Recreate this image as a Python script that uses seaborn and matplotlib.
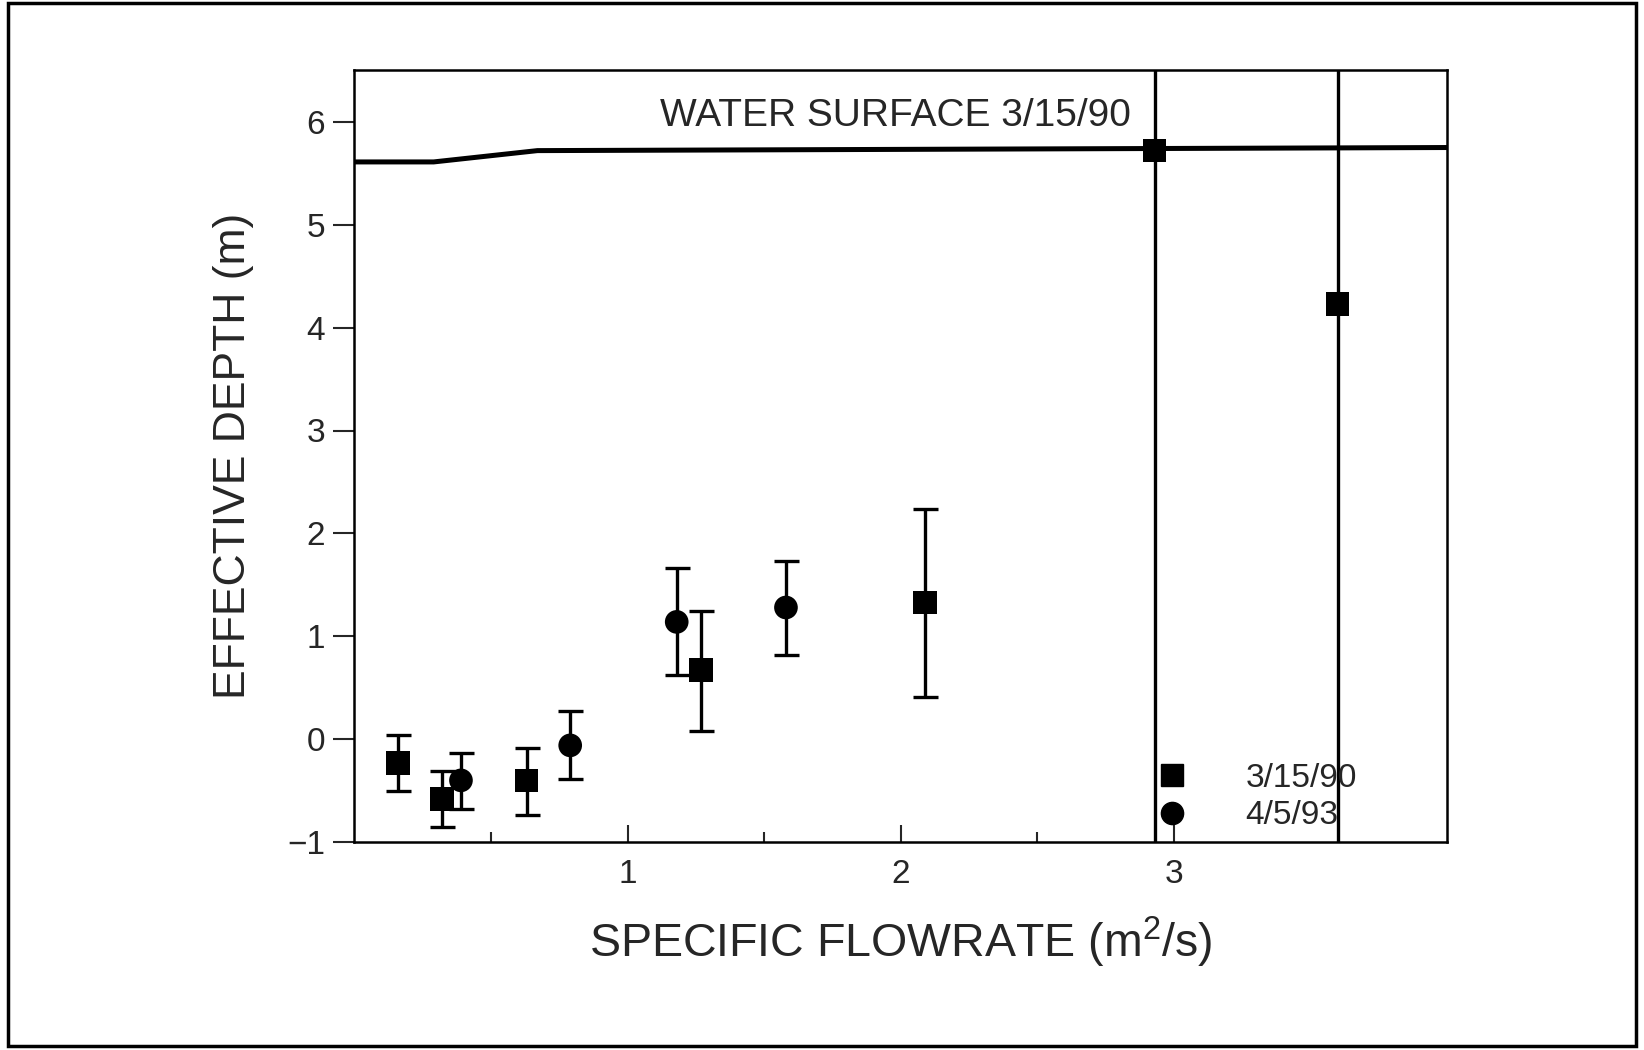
import matplotlib
matplotlib.use("Agg")
import matplotlib.pyplot as plt
import matplotlib.patches as mpatches
from matplotlib.lines import Line2D
import pandas as pd
import seaborn as sns

####################################
# data
####################################
sq_x = [0.16, 0.32, 0.63, 1.27, 2.09, 2.93, 3.60]
sq_y = [-0.23, -0.58, -0.40, 0.67, 1.33, 5.72, 4.23]
sq_lo = [-0.50, -0.85, -0.74, 0.08, 0.41, None, None]
sq_hi = [0.04, -0.31, -0.09, 1.25, 2.24, None, None]

ci_x = [0.39, 0.79, 1.18, 1.58]
ci_y = [-0.40, -0.06, 1.14, 1.28]
ci_lo = [-0.68, -0.39, 0.62, 0.82]
ci_hi = [-0.13, 0.27, 1.66, 1.73]

# points whose error bars run off the chart
open_x = [2.93, 3.60]

ws_x = [0.0, 0.29, 0.67, 4.0]
ws_y = [5.61, 5.61, 5.72, 5.75]

series_labels = ["3/15/90", "4/5/93"]
x_ticks = [1, 2, 3]
x_minor = [0.5, 1.5, 2.5]
y_ticks = [-1, 0, 1, 2, 3, 4, 5, 6]
y_ticklabels = ["\u22121", "0", "1", "2", "3", "4", "5", "6"]

####################################
# prep
####################################
df = pd.DataFrame({
    "x": sq_x + ci_x,
    "y": sq_y + ci_y,
    "lo": sq_lo + ci_lo,
    "hi": sq_hi + ci_hi,
    "series": [series_labels[0]] * len(sq_x) + [series_labels[1]] * len(ci_x),
})
df_err = df.dropna(subset=["lo", "hi"])
df_ws = pd.DataFrame({"x": ws_x, "y": ws_y})

####################################
# visualize
####################################
sns.set_style("ticks")
plt.rcParams["font.family"] = ["Liberation Sans", "DejaVu Sans"]

fig = plt.figure(figsize=(16.44, 10.5), dpi=100)
ax = fig.add_axes([0.2156, 0.198, 0.6645, 0.735])

for xv in open_x:
    ax.axvline(xv, color="black", lw=2.4, zorder=2)

ax.errorbar(
    df_err["x"], df_err["y"],
    yerr=[df_err["y"] - df_err["lo"], df_err["hi"] - df_err["y"]],
    fmt="none", ecolor="black", elinewidth=2.4, capsize=9, capthick=2.4, zorder=3,
)

sns.lineplot(data=df_ws, x="x", y="y", color="black", lw=3.6, ax=ax, zorder=3)

sns.scatterplot(
    data=df, x="x", y="y", style="series",
    markers={series_labels[0]: "s", series_labels[1]: "o"},
    color="black", s=290, edgecolor="black", linewidth=0, legend=False, ax=ax, zorder=4,
)

ax.text(1.98, 6.06, "WATER SURFACE 3/15/90", ha="center", va="center", fontsize=28)

ax.set_xlim(0, 4.0)
ax.set_ylim(-1, 6.5)
ax.set_xticks(x_ticks)
ax.set_xticks(x_minor, minor=True)
ax.set_yticks(y_ticks)
ax.set_yticklabels(y_ticklabels)
ax.tick_params(axis="x", direction="in", length=12, width=1.5, labelsize=24, pad=12)
ax.tick_params(axis="x", which="minor", direction="in", length=7, width=1.5)
ax.tick_params(axis="y", direction="out", length=15, width=1.5, labelsize=24, pad=6)
for sp in ax.spines.values():
    sp.set_linewidth(1.8)
    sp.set_color("black")

ax.set_xlabel(r"SPECIFIC FLOWRATE (m$^{\mathregular{2}}$/s)", fontsize=33.5, labelpad=18)
ax.set_ylabel("EFFECTIVE DEPTH (m)", fontsize=32, labelpad=24)

handles = [
    Line2D([], [], marker="s", color="black", ls="none", markersize=16),
    Line2D([], [], marker="o", color="black", ls="none", markersize=16),
]
ax.legend(handles, series_labels, loc="lower right", bbox_to_anchor=(0.945, -0.025),
          frameon=False, fontsize=24, handletextpad=1.2, labelspacing=0.2)

fig.patches.append(mpatches.Rectangle((0.005, 0.004), 0.99, 0.993, transform=fig.transFigure,
                                      fill=False, lw=2.5, ec="black"))

fig.savefig("out.png", dpi=100, facecolor="white")
